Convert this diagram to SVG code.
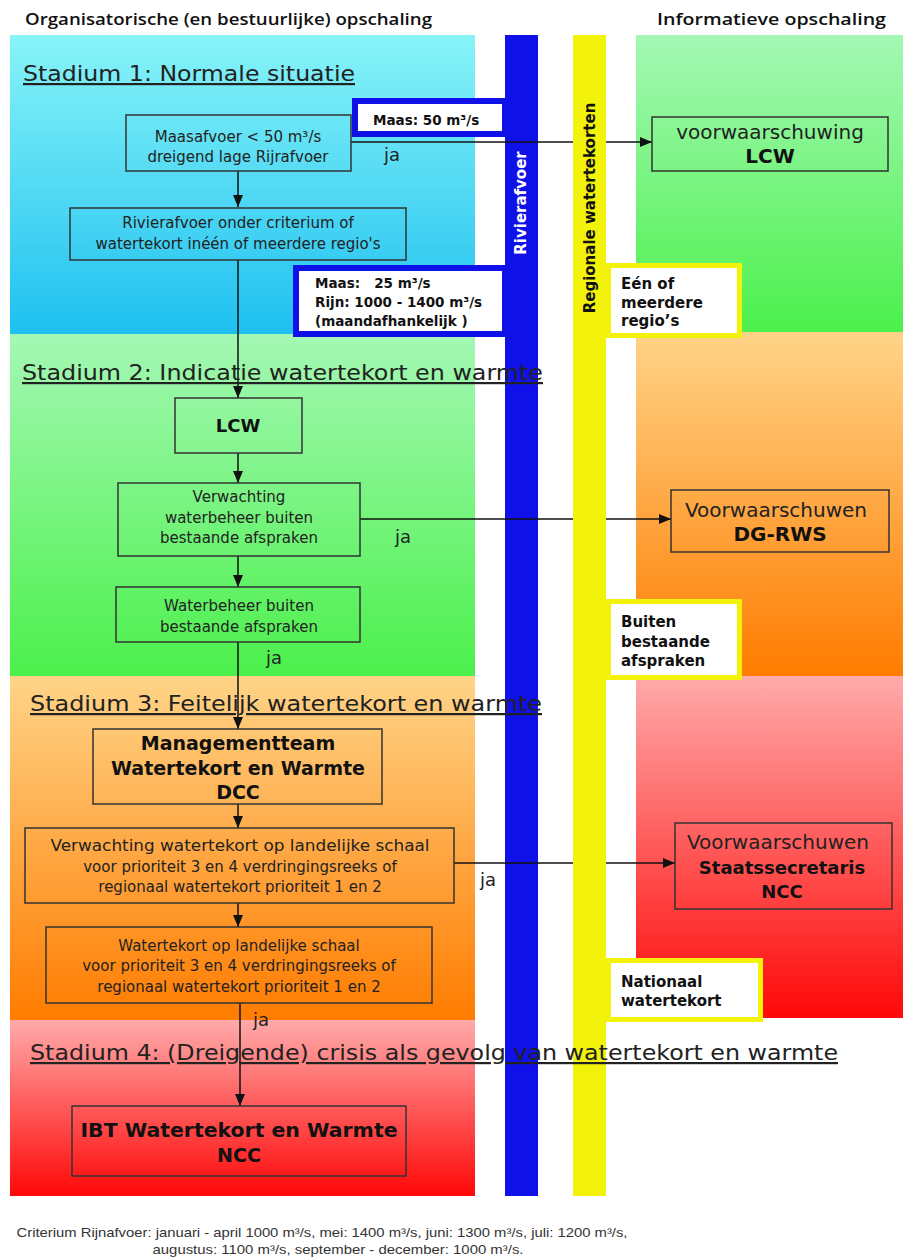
<svg xmlns="http://www.w3.org/2000/svg" width="903" height="1258" viewBox="0 0 903 1258">
<style>
.box{fill:none;stroke:#333;stroke-width:1.5}
.t{font-family:"DejaVu Sans",Verdana,sans-serif;font-size:15px;fill:#222;text-anchor:middle}
.b{font-family:"DejaVu Sans",Verdana,sans-serif;font-weight:bold;fill:#111;text-anchor:middle}
.r{font-family:"DejaVu Sans",Verdana,sans-serif;font-size:20px;fill:#222;text-anchor:middle}
.hd{font-family:"DejaVu Sans",Verdana,sans-serif;font-size:22px;fill:#222;text-decoration:underline}
.top{font-family:"Open Sans","Noto Sans",sans-serif;font-size:17px;fill:#111;font-weight:600}
.ja{font-family:"DejaVu Sans",Verdana,sans-serif;font-size:18px;fill:#222}
.lbl{font-family:"DejaVu Sans",Verdana,sans-serif;font-weight:bold;font-size:15px;fill:#111}
.bl{font-family:"DejaVu Sans",Verdana,sans-serif;font-weight:bold;font-size:13.5px;fill:#111}
.con{stroke:#111;stroke-width:1.5;fill:none;marker-end:url(#arr)}
.cap{font-family:"Liberation Sans",Arial,sans-serif;font-size:13px;fill:#333;text-anchor:middle}
</style>
<defs>
<marker id="arr" markerUnits="userSpaceOnUse" markerWidth="12" markerHeight="12" refX="12" refY="5" orient="auto" viewBox="0 0 12 10">
<path d="M0,0 L12,5 L0,10 z" fill="#111"/>
</marker>
<linearGradient id="gC" x1="0" y1="0" x2="0" y2="1"><stop offset="0" stop-color="#88f4f8"/><stop offset="1" stop-color="#1ec0f0"/></linearGradient>
<linearGradient id="gG" x1="0" y1="0" x2="0" y2="1"><stop offset="0" stop-color="#a4f8b4"/><stop offset="1" stop-color="#4cf04c"/></linearGradient>
<linearGradient id="gO" x1="0" y1="0" x2="0" y2="1"><stop offset="0" stop-color="#ffd488"/><stop offset="1" stop-color="#ff7c00"/></linearGradient>
<linearGradient id="gR" x1="0" y1="0" x2="0" y2="1"><stop offset="0" stop-color="#ffaaaa"/><stop offset="1" stop-color="#ff0808"/></linearGradient>
</defs>
<rect width="903" height="1258" fill="#fff"/>
<g id="backgrounds">
<rect x="10" y="35" width="465" height="299" fill="url(#gC)"/>
<rect x="10" y="334" width="465" height="342" fill="url(#gG)"/>
<rect x="10" y="676" width="465" height="344" fill="url(#gO)"/>
<rect x="10" y="1020" width="465" height="176" fill="url(#gR)"/>
<rect x="636" y="35" width="267" height="297" fill="url(#gG)"/>
<rect x="636" y="332" width="267" height="344" fill="url(#gO)"/>
<rect x="636" y="676" width="267" height="342" fill="url(#gR)"/>
</g>
<rect id="bar-rivier" x="505" y="35" width="33" height="1161" fill="#1010e8"/>
<g id="connectors">
<line class="con" x1="238" y1="171" x2="238" y2="207"/>
<line class="con" x1="351" y1="142" x2="652" y2="142"/>
<line class="con" x1="238" y1="260" x2="238" y2="398"/>
<line class="con" x1="238" y1="453" x2="238" y2="483"/>
<line class="con" x1="360" y1="519" x2="671" y2="519"/>
<line class="con" x1="238" y1="556" x2="238" y2="587"/>
<line class="con" x1="238" y1="642" x2="238" y2="729"/>
<line class="con" x1="238" y1="804" x2="238" y2="828"/>
<line class="con" x1="454" y1="863" x2="675" y2="863"/>
<line class="con" x1="238" y1="903" x2="238" y2="927"/>
<line class="con" x1="240" y1="1003" x2="240" y2="1106"/>
<text class="ja" x="384" y="161">ja</text>
<text class="ja" x="395" y="543">ja</text>
<text class="ja" x="266" y="664">ja</text>
<text class="ja" x="480" y="886">ja</text>
<text class="ja" x="253" y="1026">ja</text>
</g>
<rect id="bar-regio" x="573" y="35" width="33" height="1161" fill="#f2f20a"/>
<g id="maas50">
<rect x="355" y="101" width="150" height="33" fill="#fff" stroke="#1010e8" stroke-width="6"/>
<text class="bl" x="373" y="125" font-size="14">Maas: 50 m³/s</text>
</g>
<g id="maas25">
<rect x="296" y="268" width="209" height="66" fill="#fff" stroke="#1010e8" stroke-width="6"/>
<text class="bl" x="315" y="288" xml:space="preserve">Maas:   25 m³/s</text>
<text class="bl" x="315" y="307">Rijn: 1000 - 1400 m³/s</text>
<text class="bl" x="315" y="326">(maandafhankelijk )</text>
</g>
<g id="lbl-regios">
<rect x="608.5" y="265.5" width="131" height="70" fill="#fff" stroke="#f2f20a" stroke-width="5"/>
<text class="lbl" x="621" y="289">Eén of</text>
<text class="lbl" x="621" y="308">meerdere</text>
<text class="lbl" x="621" y="326">regio’s</text>
</g>
<g id="lbl-buiten">
<rect x="608.5" y="601.5" width="131" height="76" fill="#fff" stroke="#f2f20a" stroke-width="5"/>
<text class="lbl" x="621" y="627">Buiten</text>
<text class="lbl" x="621" y="647">bestaande</text>
<text class="lbl" x="621" y="666">afspraken</text>
</g>
<g id="lbl-nationaal">
<rect x="608.5" y="960.5" width="152" height="59" fill="#fff" stroke="#f2f20a" stroke-width="5"/>
<text class="lbl" x="621" y="987">Nationaal</text>
<text class="lbl" x="621" y="1006">watertekort</text>
</g>
<text class="lbl" font-size="16" fill="#fff" style="fill:#fff" text-anchor="middle" dominant-baseline="central" transform="translate(521 203) rotate(-90)">Rivierafvoer</text>
<text class="lbl" font-size="16" text-anchor="middle" dominant-baseline="central" transform="translate(590 208) rotate(-90)">Regionale watertekorten</text>
<g id="headers">
<text class="top" x="25" y="25" textLength="407" lengthAdjust="spacingAndGlyphs">Organisatorische (en bestuurlijke) opschaling</text>
<text class="top" x="657" y="25" textLength="229" lengthAdjust="spacingAndGlyphs">Informatieve opschaling</text>
<text class="hd" x="23" y="81" textLength="332" lengthAdjust="spacingAndGlyphs">Stadium 1: Normale situatie</text>
<text class="hd" x="22" y="380" textLength="521" lengthAdjust="spacingAndGlyphs">Stadium 2: Indicatie watertekort en warmte</text>
<text class="hd" x="30" y="711" textLength="512" lengthAdjust="spacingAndGlyphs">Stadium 3: Feitelijk watertekort en warmte</text>
<text class="hd" x="30" y="1060" textLength="808" lengthAdjust="spacingAndGlyphs">Stadium 4: (Dreigende) crisis als gevolg van watertekort en warmte</text>
</g>
<g id="n-maasafvoer">
<rect class="box" x="126" y="115" width="225" height="56"/>
<text class="t" x="238" y="142">Maasafvoer &lt; 50 m³/s</text>
<text class="t" x="238" y="162">dreigend lage Rijrafvoer</text>
</g>
<g id="n-rivierafvoer">
<rect class="box" x="70" y="208" width="336" height="52"/>
<text class="t" x="238" y="228">Rivierafvoer onder criterium of</text>
<text class="t" x="238" y="249">watertekort inéén of meerdere regio's</text>
</g>
<g id="n-lcw">
<rect class="box" x="175" y="398" width="127" height="55"/>
<text class="b" x="238" y="432" font-size="18">LCW</text>
</g>
<g id="n-verwachting">
<rect class="box" x="118" y="483" width="242" height="73"/>
<text class="t" x="239" y="502">Verwachting</text>
<text class="t" x="239" y="523">waterbeheer buiten</text>
<text class="t" x="239" y="543">bestaande afspraken</text>
</g>
<g id="n-waterbeheer">
<rect class="box" x="116" y="587" width="244" height="55"/>
<text class="t" x="239" y="611">Waterbeheer buiten</text>
<text class="t" x="239" y="632">bestaande afspraken</text>
</g>
<g id="n-mt">
<rect class="box" x="93" y="729" width="289" height="75"/>
<text class="b" x="238" y="750" font-size="19">Managementteam</text>
<text class="b" x="238" y="775" font-size="19">Watertekort en Warmte</text>
<text class="b" x="238" y="799" font-size="19">DCC</text>
</g>
<g id="n-verw-landelijk">
<rect class="box" x="25" y="828" width="429" height="75"/>
<text class="t" x="240" y="851" textLength="379" lengthAdjust="spacingAndGlyphs">Verwachting watertekort op landelijke schaal</text>
<text class="t" x="240" y="872">voor prioriteit 3 en 4 verdringingsreeks of</text>
<text class="t" x="240" y="892">regionaal watertekort prioriteit 1 en 2</text>
</g>
<g id="n-landelijk">
<rect class="box" x="46" y="927" width="386" height="76"/>
<text class="t" x="239" y="951">Watertekort op landelijke schaal</text>
<text class="t" x="239" y="971">voor prioriteit 3 en 4 verdringingsreeks of</text>
<text class="t" x="239" y="992">regionaal watertekort prioriteit 1 en 2</text>
</g>
<g id="n-ibt">
<rect class="box" x="72" y="1106" width="334" height="70"/>
<text class="b" x="239" y="1137" font-size="19" textLength="317" lengthAdjust="spacingAndGlyphs">IBT Watertekort en Warmte</text>
<text class="b" x="239" y="1162" font-size="19">NCC</text>
</g>
<g id="n-voorw-lcw">
<rect class="box" x="652" y="117" width="236" height="54"/>
<text class="r" x="770" y="139">voorwaarschuwing</text>
<text class="b" x="770" y="163" font-size="20">LCW</text>
</g>
<g id="n-dgrws">
<rect class="box" x="671" y="490" width="218" height="62"/>
<text class="r" x="776" y="517">Voorwaarschuwen</text>
<text class="b" x="780" y="541" font-size="20">DG-RWS</text>
</g>
<g id="n-staats">
<rect class="box" x="675" y="823" width="217" height="86"/>
<text class="r" x="778" y="849">Voorwaarschuwen</text>
<text class="b" x="782" y="874" font-size="18">Staatssecretaris</text>
<text class="b" x="782" y="898" font-size="18">NCC</text>
</g>
<g id="caption">
<text class="cap" x="322" y="1237" textLength="611" lengthAdjust="spacingAndGlyphs">Criterium Rijnafvoer: januari - april 1000 m³/s, mei: 1400 m³/s, juni: 1300 m³/s, juli: 1200 m³/s,</text>
<text class="cap" x="338" y="1254" textLength="371" lengthAdjust="spacingAndGlyphs">augustus: 1100 m³/s, september - december: 1000 m³/s.</text>
</g>
</svg>
